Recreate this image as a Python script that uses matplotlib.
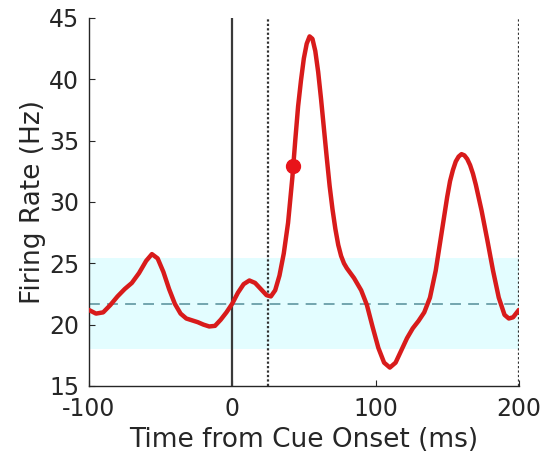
import matplotlib
matplotlib.use("Agg")
import matplotlib.pyplot as plt

# Data
time_ms = [-100, -95, -90, -85, -80, -75, -70, -65, -60, -56, -52, -48, -44, -40,
           -36, -32, -28, -24, -20, -16, -12, -8, -4, 0, 4, 8, 12, 16, 20, 24, 27,
           30, 33, 36, 39, 42, 44, 46, 48, 50, 52, 54, 56, 58, 60, 62, 64, 66, 68,
           70, 72, 74, 76, 78, 80, 85, 90, 94, 98, 102, 106, 110, 114, 118, 122,
           126, 130, 134, 138, 142, 146, 150, 152, 154, 156, 158, 160, 162, 164,
           166, 168, 170, 174, 178, 182, 186, 190, 193, 196, 200]
rate_hz = [21.2, 20.9, 21.0, 21.6, 22.3, 22.9, 23.4, 24.2, 25.2, 25.75, 25.4, 24.3,
           22.9, 21.7, 20.9, 20.5, 20.35, 20.2, 20.0, 19.85, 19.9, 20.4, 21.0, 21.7,
           22.6, 23.3, 23.6, 23.4, 22.9, 22.4, 22.3, 22.8, 24.0, 25.8, 28.3, 32.0,
           35.0, 37.8, 39.9, 41.7, 42.9, 43.5, 43.3, 42.3, 40.6, 38.4, 36.0, 33.6,
           31.3, 29.4, 27.8, 26.5, 25.6, 25.0, 24.6, 23.8, 22.8, 21.6, 19.8, 18.1,
           16.9, 16.5, 16.9, 17.9, 18.9, 19.7, 20.3, 21.0, 22.2, 24.4, 27.4, 30.4,
           31.7, 32.6, 33.3, 33.7, 33.9, 33.8, 33.5, 33.0, 32.3, 31.4, 29.3, 26.9,
           24.4, 22.2, 20.8, 20.5, 20.6, 21.2]
marker_x = [42.6]
marker_y = [32.9]
baseline_mean = 21.7
baseline_low = 18.0
baseline_high = 25.4
cue_time = 0
dotted_times = [25, 200]
x_ticks = [-100, 0, 100, 200]
y_ticks = [15, 20, 25, 30, 35, 40, 45]

plt.rcParams['font.family'] = ['DejaVu Sans']
plt.rcParams['axes.unicode_minus'] = False

fig = plt.figure(figsize=(5.45, 4.73), dpi=100)
ax = fig.add_axes([0.163, 0.184, 0.789, 0.778])

ax.axhspan(baseline_low, baseline_high, color='#E3FDFF', zorder=0, lw=0)
ax.axhline(baseline_mean, color='#6A9EA8', ls=(0, (6, 4)), lw=1.3, zorder=1)
ax.axvline(cue_time, color='#3A3A3A', lw=1.6, zorder=2)
for t in dotted_times:
    ax.axvline(t, color='#333333', ls=(0, (1, 1)), lw=1.6, zorder=2)

ax.plot(time_ms, rate_hz, color='#D81B1B', lw=3.2, zorder=3,
        solid_capstyle='round', solid_joinstyle='round')
ax.plot(marker_x, marker_y, 'o', color='#E8141A', ms=10, zorder=4)

ax.set_xlim(-100, 200)
ax.set_ylim(15, 45)
ax.set_xticks(x_ticks)
ax.set_yticks(y_ticks)
ax.tick_params(direction='in', labelsize=17, colors='#262626', length=4, width=0.8)
ax.tick_params(axis='x', pad=8)
ax.tick_params(axis='y', pad=7)
for s in ['top', 'right']:
    ax.spines[s].set_visible(False)
for s in ['left', 'bottom']:
    ax.spines[s].set_color('#262626')
    ax.spines[s].set_linewidth(1.0)

ax.set_xlabel('Time from Cue Onset (ms)', fontsize=19, color='#262626', labelpad=4)
ax.set_ylabel('Firing Rate (Hz)', fontsize=19, color='#262626', labelpad=2)

fig.savefig('out.png', dpi=100)
